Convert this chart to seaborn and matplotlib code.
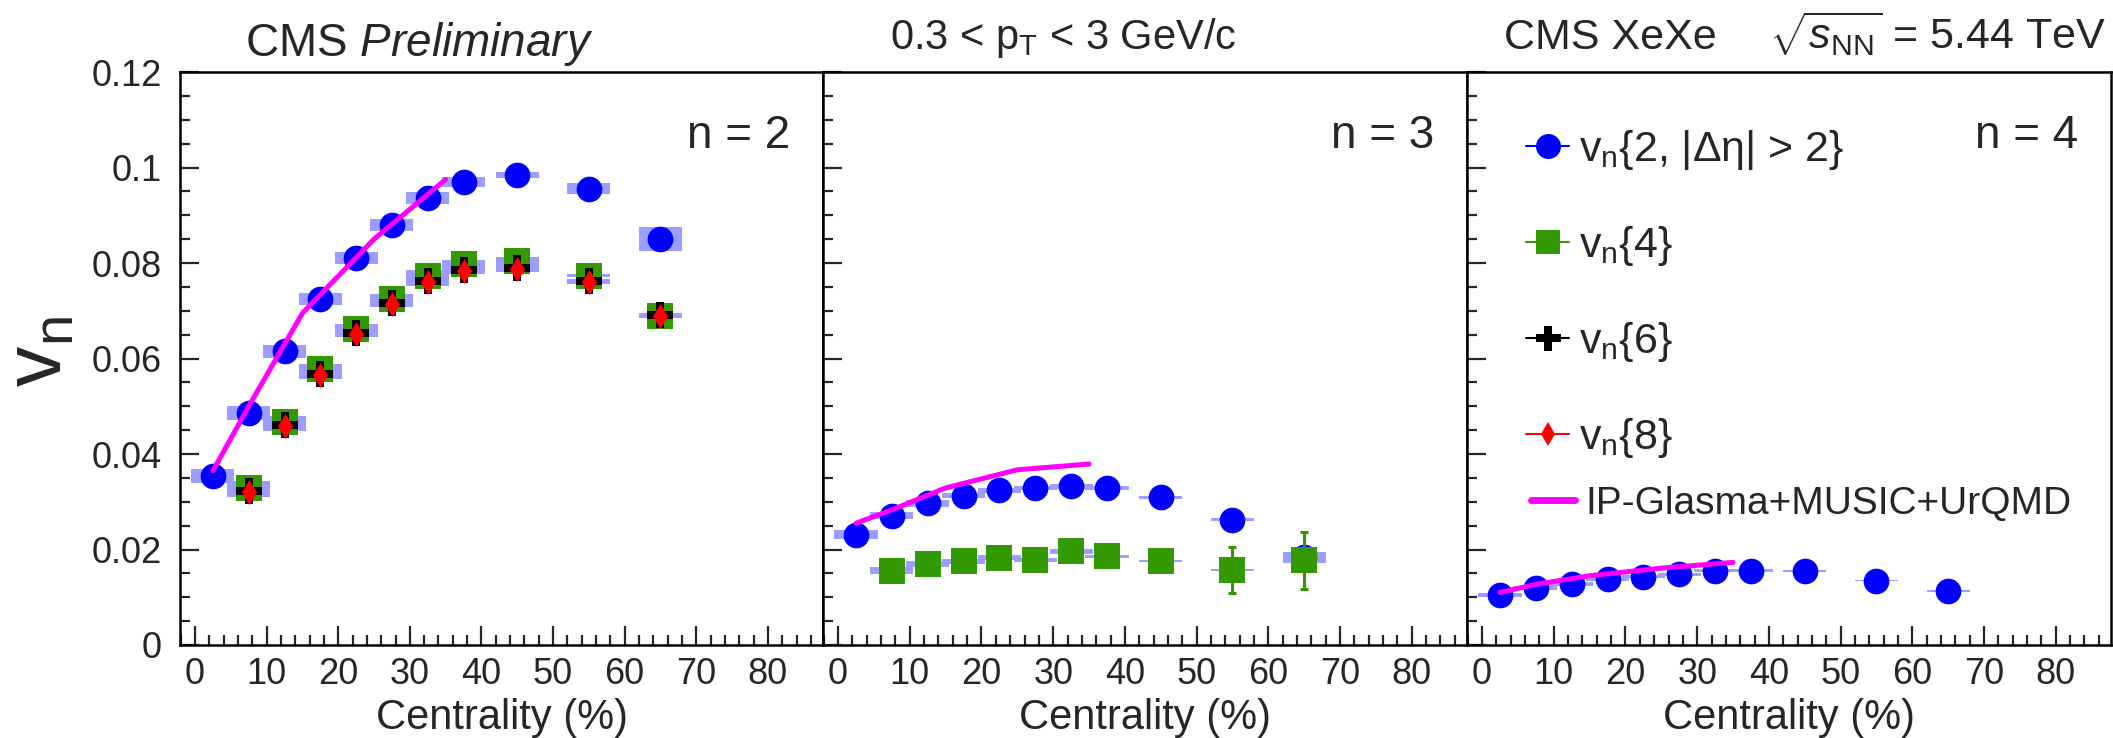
import numpy as np
import pandas as pd
import matplotlib
matplotlib.use("Agg")
import matplotlib.pyplot as plt
import seaborn as sns
from matplotlib.patches import Rectangle
from matplotlib.lines import Line2D
from matplotlib.ticker import MultipleLocator

# ---------------- data ----------------
cent = [2.5, 7.5, 12.5, 17.5, 22.5, 27.5, 32.5, 37.5, 45, 55, 65]
cent_multi = [7.5, 12.5, 17.5, 22.5, 27.5, 32.5, 37.5, 45, 55, 65]
model_cent = [2.5, 7.5, 15, 25, 35]

# n = 2
v2_2 = [0.0354, 0.0486, 0.0615, 0.0724, 0.0810, 0.0880, 0.0936, 0.0970, 0.0984, 0.0956, 0.0850]
v2_2_sys = [0.0014, 0.0015, 0.0014, 0.0013, 0.0013, 0.0013, 0.0013, 0.0010, 0.0006, 0.0011, 0.0025]
v2_4 = [0.0328, 0.0466, 0.0577, 0.0661, 0.0724, 0.0773, 0.0797, 0.0804, 0.0773, 0.0689]
v2_4_sys = [0.0016, 0.0014, 0.0012, 0.0012, 0.0012, 0.0012, 0.0010, 0.0008, 0.0003, 0.0004]
v2_6 = [0.0323, 0.0460, 0.0568, 0.0654, 0.0717, 0.0762, 0.0785, 0.0789, 0.0762, 0.0692]
v2_6_sys = [0.0014, 0.0012, 0.0010, 0.0010, 0.0010, 0.0010, 0.0008, 0.0007, 0.0005, 0.0004]
v2_8 = [0.0321, 0.0458, 0.0566, 0.0652, 0.0715, 0.0760, 0.0783, 0.0787, 0.0760, 0.0690]
v2_model = [0.0365, 0.0500, 0.0695, 0.0850, 0.0975]

# n = 3
v3_2 = [0.0231, 0.0271, 0.0297, 0.0313, 0.0324, 0.0329, 0.0332, 0.0329, 0.0309, 0.0262, 0.0185]
v3_2_sys = [0.0009, 0.0008, 0.0007, 0.0006, 0.0005, 0.0005, 0.0005, 0.0004, 0.0003, 0.0003, 0.0009]
v3_4 = [0.0156, 0.0169, 0.0175, 0.0183, 0.0178, 0.0196, 0.0186, 0.0176, 0.0157, 0.0177]
v3_4_sys = [0.0008, 0.0006, 0.0006, 0.0005, 0.0005, 0.0005, 0.0003, 0.0002, 0.0002, 0.0006]
v3_4_stat = [0.0003, 0.0003, 0.0003, 0.0003, 0.0004, 0.0004, 0.0005, 0.0007, 0.0049, 0.0059]
v3_model = [0.0255, 0.0283, 0.0329, 0.0367, 0.0379]

# n = 4
v4_2 = [0.0105, 0.0119, 0.0128, 0.0138, 0.0143, 0.0148, 0.0156, 0.0156, 0.0155, 0.0135, 0.0113]
v4_2_sys = [0.0004, 0.0004, 0.0004, 0.0004, 0.0003, 0.0003, 0.0003, 0.0003, 0.0002, 0.0002, 0.0002]
v4_model = [0.0110, 0.0127, 0.0145, 0.0161, 0.0173]

y_ticks = [0, 0.02, 0.04, 0.06, 0.08, 0.1, 0.12]
y_tick_labels = ["0", "0.02", "0.04", "0.06", "0.08", "0.1", "0.12"]
x_ticks = [0, 10, 20, 30, 40, 50, 60, 70, 80]
x_tick_labels = ["0", "10", "20", "30", "40", "50", "60", "70", "80"]

legend_labels = ["v$_{\\mathrm{n}}${2, |Δη| > 2}", "v$_{\\mathrm{n}}${4}",
                 "v$_{\\mathrm{n}}${6}", "v$_{\\mathrm{n}}${8}"]
model_label = "IP-Glasma+MUSIC+UrQMD"

# ---------------- style ----------------
sns.set_style("white")
plt.rcParams["font.family"] = ["Liberation Sans", "DejaVu Sans"]
plt.rcParams["mathtext.fontset"] = "custom"
plt.rcParams["mathtext.rm"] = "Liberation Sans"
plt.rcParams["mathtext.it"] = "Liberation Sans:italic"
plt.rcParams["mathtext.bf"] = "Liberation Sans:bold"
plt.rcParams["mathtext.sf"] = "Liberation Sans"

BLUE = "#0000ff"
GREEN = "#339900"
RED = "#ff0000"
BLACK = "#000000"
MAGENTA = "#ff00ff"
BOX = "#9d9dff"
HALF_W = 3.0

W, H = 2113, 738
fig = plt.figure(figsize=(W / 100, H / 100), dpi=100)

def fx(px):
    return px / W

def fy(py):
    return 1 - py / H

ax_bottom = fy(645)
ax_height = (645 - 72) / H
lefts = [180, 823, 1467]
rights = [823, 1467, 2111]
axes = [fig.add_axes([fx(l), ax_bottom, fx(r - l), ax_height]) for l, r in zip(lefts, rights)]


def draw_boxes(ax, xs, ys, sys):
    for c, v, s in zip(xs, ys, sys):
        ax.add_patch(Rectangle((c - HALF_W, v - s), 2 * HALF_W, 2 * s,
                               facecolor=BOX, edgecolor="none", zorder=1))


def scatter(ax, xs, ys, marker, size, color, z):
    df = pd.DataFrame({"c": xs, "v": ys})
    sns.scatterplot(data=df, x="c", y="v", marker=marker, s=size ** 2, color=color,
                    linewidth=0, ax=ax, zorder=z, legend=False)


def model(ax, ys):
    df = pd.DataFrame({"c": model_cent, "v": ys})
    sns.lineplot(data=df, x="c", y="v", color=MAGENTA, lw=3.6, sort=False,
                 estimator=None, ax=ax, zorder=8, legend=False)


# panel 1
ax = axes[0]
draw_boxes(ax, cent, v2_2, v2_2_sys)
draw_boxes(ax, cent_multi, v2_4, v2_4_sys)
draw_boxes(ax, cent_multi, v2_6, v2_6_sys)
scatter(ax, cent, v2_2, "o", 18.5, BLUE, 3)
scatter(ax, cent_multi, v2_4, "s", 18.5, GREEN, 4)
scatter(ax, cent_multi, v2_6, "P", 18.5, BLACK, 5)
scatter(ax, cent_multi, v2_8, "d", 12.7, RED, 6)
model(ax, v2_model)

# panel 2
ax = axes[1]
draw_boxes(ax, cent, v3_2, v3_2_sys)
draw_boxes(ax, cent_multi, v3_4, v3_4_sys)
scatter(ax, cent, v3_2, "o", 18.5, BLUE, 3)
ax.errorbar(cent_multi, v3_4, yerr=v3_4_stat, fmt="none", ecolor=GREEN,
            elinewidth=2.2, capsize=3, capthick=2.2, zorder=4)
scatter(ax, cent_multi, v3_4, "s", 18.5, GREEN, 5)
model(ax, v3_model)

# panel 3
ax = axes[2]
draw_boxes(ax, cent, v4_2, v4_2_sys)
scatter(ax, cent, v4_2, "o", 18.5, BLUE, 3)
model(ax, v4_model)

for i, ax in enumerate(axes):
    ax.set_xlim(-2.1, 87.7)
    ax.set_ylim(0, 0.12)
    ax.set_xlabel("")
    ax.set_ylabel("")
    ax.set_xticks(x_ticks)
    ax.set_xticklabels(x_tick_labels)
    ax.set_yticks(y_ticks)
    ax.xaxis.set_minor_locator(MultipleLocator(2))
    ax.yaxis.set_minor_locator(MultipleLocator(0.005))
    ax.tick_params(which="major", direction="in", length=14, width=1.6,
                   labelsize=26, pad=9, top=False, right=False, left=True, bottom=True)
    ax.tick_params(which="minor", direction="in", length=7, width=1.6,
                   top=False, right=False, left=True, bottom=True)
    ax.tick_params(axis="y", pad=13)
    if i == 0:
        ax.set_yticklabels(y_tick_labels)
    else:
        ax.set_yticklabels([])
    for sp in ax.spines.values():
        sp.set_linewidth(1.8)
        sp.set_color("black")
        sp.set_visible(True)
    ax.set_facecolor("white")
    ax.text(0.949, 0.867, "n = %d" % (i + 2), transform=ax.transAxes,
            ha="right", va="baseline", fontsize=33)
    ax.text(0.5, -0.146, "Centrality (%)", transform=ax.transAxes,
            ha="center", va="baseline", fontsize=30)

# y label (full mathtext -> tight ink bbox)
fig.text(fx(2), fy(352), "$\\mathrm{v}_{\\mathrm{n}}$", rotation=90, ha="left", va="center",
         fontsize=58)

# headers
fig.text(fx(245), fy(56), "CMS $\\mathit{Preliminary}$", ha="left", va="baseline", fontsize=33)
fig.text(fx(890), fy(49), "0.3 < p$_{\\mathrm{T}}$ < 3 GeV/c", ha="left", va="baseline", fontsize=30)
fig.text(fx(1504), fy(49), "CMS XeXe", ha="left", va="baseline", fontsize=31)
fig.text(fx(2106), fy(49), "$\\sqrt{s_{\\mathrm{NN}}}$ = 5.44 TeV", ha="right",
         va="baseline", fontsize=31)

# legends
handles = [
    Line2D([], [], color=BLUE, marker="o", markersize=18, lw=1.5),
    Line2D([], [], color=GREEN, marker="s", markersize=17, lw=1.5),
    Line2D([], [], color=BLACK, marker="P", markersize=18, lw=1.5),
    Line2D([], [], color=RED, marker="d", markersize=12.5, lw=1.5),
]
for h in handles:
    h.set_markeredgewidth(0)
leg1 = axes[2].legend(handles, legend_labels, loc="upper left",
                      bbox_to_anchor=(fx(1526), fy(128)), bbox_transform=fig.transFigure,
                      frameon=False, fontsize=31, handlelength=1.0, handletextpad=0.23,
                      labelspacing=1.21, borderpad=0, borderaxespad=0)
axes[2].add_artist(leg1)
mh = [Line2D([], [], color=MAGENTA, lw=5)]
axes[2].legend(mh, [model_label], loc="center left",
               bbox_to_anchor=(fx(1531), fy(504)), bbox_transform=fig.transFigure,
               frameon=False, fontsize=28, handlelength=1.12, handletextpad=0.27,
               borderpad=0, borderaxespad=0)

fig.savefig("out.png", dpi=100, facecolor="white")
